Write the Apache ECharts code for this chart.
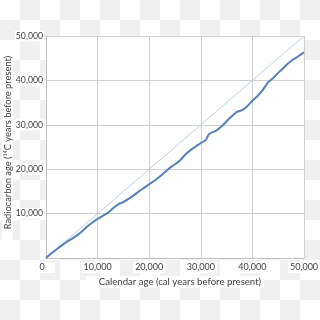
<!DOCTYPE html>
<html><head><meta charset="utf-8">
<script src="https://cdn.jsdelivr.net/npm/echarts@6/dist/echarts.min.js"></script>
<style>
html,body{margin:0;padding:0;width:320px;height:320px;overflow:hidden;
background:repeating-conic-gradient(#f0f0f0 0 25%, #ffffff 0 50%) 0 0/40px 40px;}
#c{width:320px;height:320px;}
</style></head>
<body><div id="c"></div>
<script>
const calAge = [0,1000,2000,3000,4000,5000,6000,7000,8000,9000,10000,11000,12000,13000,14000,15000,16000,17000,18000,19000,20000,21000,22000,23000,24000,25000,26000,27000,28000,29000,30000,31000,31500,32000,33000,34000,35000,36000,37000,38000,39000,40000,41000,42000,43000,44000,45000,46000,47000,48000,49000,50000];
const radiocarbonAge = [0,1000,1900,2800,3600,4300,5100,6000,7100,8000,8800,9500,10200,11200,12100,12600,13300,14100,15000,15800,16600,17400,18300,19300,20300,21100,22000,23300,24300,25100,25900,26600,27800,28200,28700,29600,30800,31900,32900,33300,34200,35400,36500,37800,39500,40500,41700,42800,43900,44800,45500,46300];
const oneToOne = [[0,0],[50000,50000]];
const xTicks = [0,10000,20000,30000,40000,50000];
const yTicks = [0,10000,20000,30000,40000,50000];
const xTitle = 'Calendar age (cal years before present)';
const yTitle = 'Radiocarbon age (¹⁴C years before present)';

const fmt = v => v.toLocaleString('en-US');
const chart = echarts.init(document.getElementById('c'));
const font = 'Lato, "Open Sans", sans-serif';
chart.setOption({
  animation:false,
  grid:{left:46,right:16,top:36,bottom:62,show:true,backgroundColor:'#fff',borderWidth:0,containLabel:false,outerBoundsMode:'none'},
  xAxis:{type:'value',min:xTicks[0],max:xTicks[xTicks.length-1],interval:10000,
    name:xTitle,nameLocation:'middle',nameGap:18,nameMoveOverlap:false,
    nameTextStyle:{color:'#404040',fontSize:9.6,fontFamily:font,backgroundColor:'#fff',padding:[1,3,1,13]},
    axisLine:{show:true,lineStyle:{color:'#bfbfbf'}},axisTick:{show:false},
    axisLabel:{margin:4,color:'#404040',fontSize:9,fontFamily:font,backgroundColor:'#fff',padding:[1,2],
      formatter:v=>v===0?'{z|0}':fmt(v),rich:{z:{padding:[0,8,0,0],color:'#404040',fontSize:9,fontFamily:font}}},
    splitLine:{show:true,lineStyle:{color:'#d0d0d0'}}},
  yAxis:{type:'value',min:yTicks[0],max:yTicks[yTicks.length-1],interval:10000,
    name:yTitle,nameLocation:'middle',nameGap:33,nameRotate:90,nameMoveOverlap:false,
    nameTextStyle:{color:'#404040',fontSize:9.3,fontFamily:font,backgroundColor:'#fff',padding:[1,3,1,12]},
    axisLine:{show:true,lineStyle:{color:'#bfbfbf'}},axisTick:{show:false},
    axisLabel:{margin:2,showMinLabel:false,color:'#404040',fontSize:8.7,fontFamily:font,backgroundColor:'#fff',padding:[1,1],formatter:fmt},
    splitLine:{show:true,lineStyle:{color:'#d0d0d0'}}},
  series:[
    {type:'line',data:oneToOne,symbol:'none',lineStyle:{color:'#bdd0ea',width:1},z:2},
    {type:'line',data:calAge.map((c,i)=>[c,radiocarbonAge[i]]),symbol:'none',smooth:0.2,
      lineStyle:{color:'#5680b8',width:2},z:3}
  ]
});
</script></body></html>
